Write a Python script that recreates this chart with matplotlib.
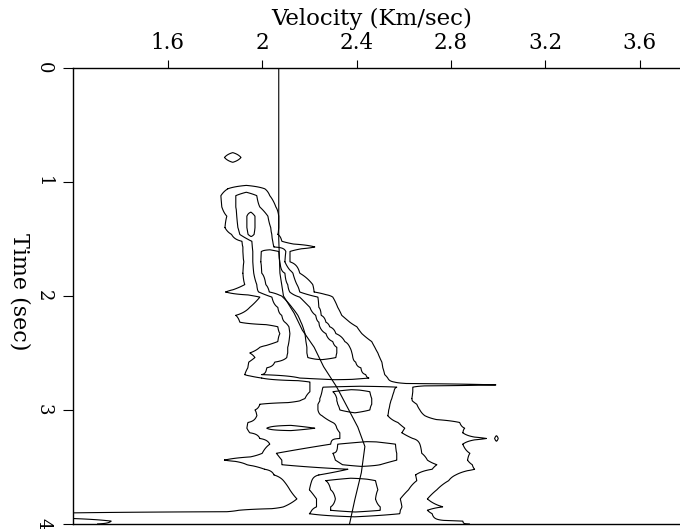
import numpy as np
import matplotlib
matplotlib.use("Agg")
import matplotlib.pyplot as plt

plt.rcParams['font.family'] = ['DejaVu Serif']

# semblance picks: time (s) -> list of (velocity km/s, step)
# step +1 = contour level entered going right, -1 = level left
pick_times = [
    0.00, 0.70, 0.785, 0.87, 1.00, 1.06, 1.12, 1.22, 1.30, 1.40, 1.46, 1.52,
    1.57, 1.61, 1.70, 1.80, 1.90, 1.965, 2.01, 2.10, 2.17, 2.23, 2.27, 2.33,
    2.40, 2.45, 2.50, 2.54, 2.58, 2.63, 2.69, 2.72, 2.755, 2.78, 2.80, 2.84,
    2.90, 2.92, 2.95, 3.00, 3.05, 3.11, 3.16, 3.20, 3.25, 3.30, 3.38, 3.44,
    3.48, 3.52, 3.57, 3.62, 3.70, 3.78, 3.85, 3.88, 3.91, 3.975, 4.00,
]
picks = [
    [],
    [],
    [(1.840, 1), (1.910, -1)],
    [],
    [],
    [(1.854, 1), (2.011, -1)],
    [(1.825, 1), (1.888, 1), (1.977, -1), (2.032, -1)],
    [(1.829, 1), (1.888, 1), (1.990, -1), (2.058, -1)],
    [(1.850, 1), (1.892, 1), (1.935, 1), (1.969, -1), (2.024, -1), (2.070, -1)],
    [(1.842, 1), (1.897, 1), (1.935, 1), (1.969, -1), (2.036, -1), (2.070, -1)],
    [(1.870, 1), (1.905, 1), (1.940, 1), (1.965, -1), (2.041, -1), (2.066, -1)],
    [(1.914, 1), (1.956, 1), (2.045, -1), (2.083, -1)],
    [(1.918, 1), (1.958, 1), (2.050, -1), (2.223, -1)],
    [(1.918, 1), (1.960, 1), (1.996, 1), (2.070, -1), (2.100, -1), (2.117, -1)],
    [(1.922, 1), (1.960, 1), (1.994, 1), (2.075, -1), (2.096, -1), (2.117, -1)],
    [(1.918, 1), (1.964, 1), (1.998, 1), (2.096, -1), (2.130, -1), (2.159, -1)],
    [(1.926, 1), (1.977, 1), (2.015, 1), (2.108, -1), (2.147, -1), (2.214, -1)],
    [(1.846, 1), (1.985, 1), (2.030, 1), (2.117, -1), (2.159, -1), (2.220, -1)],
    [(1.990, 1), (2.041, 1), (2.087, 1), (2.159, -1), (2.236, -1), (2.299, -1)],
    [(1.947, 1), (2.066, 1), (2.126, 1), (2.202, -1), (2.240, -1), (2.320, -1)],
    [(1.888, 1), (2.083, 1), (2.151, 1), (2.227, -1), (2.250, -1), (2.337, -1)],
    [(1.905, 1), (2.096, 1), (2.164, 1), (2.240, -1), (2.270, -1), (2.371, -1)],
    [(2.066, 1), (2.113, 1), (2.172, 1), (2.244, -1), (2.286, -1), (2.401, -1)],
    [(2.075, 1), (2.117, 1), (2.181, 1), (2.270, -1), (2.312, -1), (2.422, -1)],
    [(2.066, 1), (2.113, 1), (2.185, 1), (2.299, -1), (2.350, -1), (2.464, -1)],
    [(1.990, 1), (2.108, 1), (2.189, 1), (2.316, -1), (2.371, -1), (2.477, -1)],
    [(1.947, 1), (2.108, 1), (2.189, 1), (2.316, -1), (2.380, -1), (2.490, -1)],
    [(1.969, 1), (2.104, 1), (2.193, 1), (2.312, -1), (2.384, -1), (2.498, -1)],
    [(1.943, 1), (2.053, 1), (2.396, -1), (2.507, -1)],
    [(1.939, 1), (2.019, 1), (2.418, -1), (2.511, -1)],
    [(1.926, 1), (1.998, 1), (2.439, -1), (2.519, -1)],
    [(1.998, 1), (2.159, 1), (2.452, -1), (2.532, -1)],
    [(2.202, 1), (2.560, -1)],
    [(2.202, 1), (2.990, -1)],
    [(2.202, 1), (2.257, 1), (2.570, -1), (2.638, -1)],
    [(2.202, 1), (2.253, 1), (2.299, 1), (2.456, -1), (2.558, -1), (2.638, -1)],
    [(2.181, 1), (2.244, 1), (2.316, 1), (2.464, -1), (2.549, -1), (2.634, -1)],
    [(2.159, 1), (2.244, 1), (2.316, 1), (2.464, -1), (2.545, -1), (2.636, -1)],
    [(1.990, 1), (2.236, 1), (2.320, 1), (2.464, -1), (2.541, -1), (2.655, -1)],
    [(1.969, 1), (2.236, 1), (2.329, 1), (2.456, -1), (2.536, -1), (2.668, -1)],
    [(1.977, 1), (2.253, 1), (2.532, -1), (2.689, -1)],
    [(1.939, 1), (2.299, 1), (2.575, -1), (2.837, -1)],
    [(1.935, 1), (2.019, -1), (2.223, 1), (2.316, 1), (2.604, -1), (2.858, -1)],
    [(1.947, 1), (2.329, 1), (2.592, -1), (2.850, -1)],
    [(1.990, 1), (2.329, 1), (2.638, -1), (2.950, -1), (2.985, 1), (3.000, -1)],
    [(2.032, 1), (2.290, 1), (2.320, 1), (2.565, -1), (2.668, -1), (2.850, -1)],
    [(2.000, 1), (2.060, 1), (2.300, 1), (2.570, -1), (2.676, -1), (2.880, -1)],
    [(1.840, 1), (2.083, 1), (2.310, 1), (2.570, -1), (2.700, -1), (2.870, -1)],
    [(1.935, 1), (2.083, 1), (2.340, 1), (2.500, -1), (2.740, -1), (2.890, -1)],
    [(2.010, 1), (2.363, 1), (2.720, -1), (2.900, -1)],
    [(2.050, 1), (2.240, 1), (2.650, -1), (2.820, -1)],
    [(2.090, 1), (2.210, 1), (2.270, 1), (2.480, -1), (2.655, -1), (2.790, -1)],
    [(2.117, 1), (2.200, 1), (2.290, 1), (2.490, -1), (2.620, -1), (2.740, -1)],
    [(2.147, 1), (2.230, 1), (2.310, 1), (2.480, -1), (2.585, -1), (2.700, -1)],
    [(2.090, 1), (2.230, 1), (2.290, 1), (2.500, -1), (2.592, -1), (2.765, -1)],
    [(1.900, 1), (2.210, 1), (2.290, 1), (2.500, -1), (2.585, -1), (2.700, -1)],
    [(1.000, 1), (2.200, 1), (2.583, -1), (2.720, -1)],
    [(0.980, 1), (1.000, 1), (1.360, -1), (2.850, -1)],
    [(0.980, 1), (1.000, 1), (1.300, -1), (2.880, -1)],
]

# picked stacking velocity function
vel_t = [0.0, 1.5, 1.8, 2.0, 2.15, 2.3, 2.45, 2.62, 2.8, 3.0, 3.15, 3.32, 3.55, 3.79, 4.0]
vel_v = [2.07, 2.07, 2.075, 2.09, 2.135, 2.17, 2.22, 2.26, 2.316, 2.367, 2.405, 2.435, 2.42, 2.392, 2.37]

x_ticks = [1.6, 2.0, 2.4, 2.8, 3.2, 3.6]
x_ticklabels = ['1.6', '2', '2.4', '2.8', '3.2', '3.6']
y_ticks = [0, 1, 2, 3, 4]
y_ticklabels = ['0', '1', '2', '3', '4']


def row_profile(v, row):
    # piecewise-linear semblance level along one time row
    if not row:
        return np.full_like(v, 0.5)
    knots, vals = [row[0][0] - 0.05], [0.5]
    lev = 0
    prev = None
    for vc, d in row:
        if prev is not None:
            knots.append(0.5 * (prev + vc))
            vals.append(lev + 0.5)
        new = lev + d
        knots.append(vc)
        vals.append(max(lev, new))
        lev = new
        prev = vc
    knots.append(prev + 0.05)
    vals.append(lev + 0.5)
    return np.interp(v, knots, vals)


v_grid = np.arange(1.2, 3.9001, 0.002)
semb = np.array([row_profile(v_grid, r) for r in picks])

fig = plt.figure(figsize=(6.8, 5.29), dpi=100)
ax = fig.add_axes([0.108, 0.0095, 0.937, 0.862])

ax.contour(v_grid, pick_times, semb, levels=[1, 2, 3], colors='k', linewidths=0.8)
ax.plot(vel_v, vel_t, color='k', lw=0.8)

ax.set_xlim(1.2, 3.9)
ax.set_ylim(4, 0)
ax.xaxis.tick_top()
ax.set_xticks(x_ticks)
ax.set_xticklabels(x_ticklabels)
ax.set_yticks(y_ticks)
ax.set_yticklabels(y_ticklabels, rotation=-90, va='center')
ax.tick_params(axis='x', direction='out', length=6, width=0.8, pad=4, labelsize=15.5)
ax.tick_params(axis='y', direction='out', length=7, width=0.8, pad=8, labelsize=13)
for s in ax.spines.values():
    s.set_linewidth(1.0)

ax.set_xlabel('Velocity (Km/sec)', fontsize=16.5)
ax.xaxis.set_label_position('top')
ax.xaxis.set_label_coords(0.468, 1.108)
ax.xaxis.label.set_va('center')
ax.set_ylabel('Time (sec)', fontsize=16, rotation=-90, va='center')
ax.yaxis.set_label_coords(-0.084, 0.51)

fig.savefig('out.png', dpi=100)
